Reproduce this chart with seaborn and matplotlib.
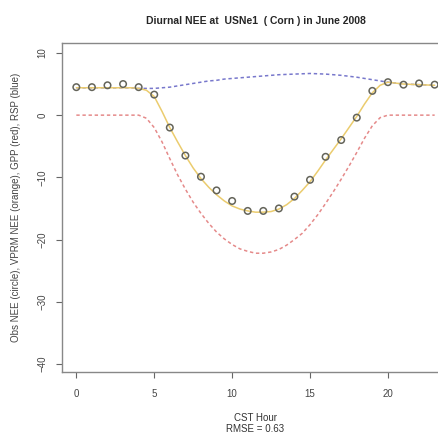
import numpy as np
import pandas as pd
import matplotlib
matplotlib.use("Agg")
import matplotlib.pyplot as plt
import seaborn as sb

# DATA
# ====
obs_hours = list(range(24))
obs_nee = [4.5, 4.5, 4.8, 5.0, 4.5, 3.3, -2.0, -6.5, -9.9, -12.1, -13.8, -15.4,
           -15.4, -15.0, -13.1, -10.4, -6.7, -4.0, -0.4, 3.9, 5.3, 4.9, 5.1, 4.9]

# modelled curves, half-hourly 0..23
curve_hours = np.arange(0, 23.5, 0.5)
gpp = [0, 0, 0, 0, 0, 0, 0, 0, 0,
       -0.5, -2.0, -4.3, -7.0, -9.6, -11.9, -14.0, -15.8, -17.4, -18.8, -19.9,
       -20.8, -21.5, -21.9, -22.2, -22.2, -22.0, -21.6, -20.9, -20.0, -19.0,
       -17.6, -16.0, -14.2, -12.3, -10.3, -8.2, -6.0, -3.7, -1.7, -0.4,
       0, 0, 0, 0, 0, 0, 0]
rsp = [4.4, 4.4, 4.4, 4.4, 4.4, 4.4, 4.4, 4.4, 4.3,
       4.3, 4.3, 4.4, 4.5, 4.7, 4.9, 5.1, 5.3, 5.5, 5.6, 5.8,
       5.9, 6.0, 6.1, 6.2, 6.3, 6.4, 6.5, 6.55, 6.6, 6.65,
       6.7, 6.65, 6.6, 6.5, 6.4, 6.25, 6.1, 5.9, 5.7, 5.5,
       5.3, 5.15, 5.0, 4.95, 4.9, 4.85, 4.8]
vprm_nee = [4.4, 4.4, 4.4, 4.4, 4.4, 4.4, 4.4, 4.4, 4.3,
            4.0, 3.0, 0.6, -2.0, -4.3, -6.5, -8.5, -10.2, -11.6, -12.8, -13.8,
            -14.6, -15.1, -15.4, -15.6, -15.6, -15.5, -15.1, -14.4, -13.4, -12.1,
            -10.7, -9.0, -7.2, -5.5, -3.8, -2.0, -0.2, 1.8, 3.6, 4.8,
            5.3, 5.15, 5.0, 4.95, 4.9, 4.85, 4.8]

title = 'Diurnal NEE at  USNe1  ( Corn ) in June 2008'
xlab = 'CST Hour\nRMSE = 0.63'
ylab = 'Obs NEE (circle), VPRM NEE (orange), GPP (red), RSP (blue)'

curves = pd.DataFrame({'hour': curve_hours, 'gpp': gpp, 'rsp': rsp, 'vprm': vprm_nee})
obs = pd.DataFrame({'hour': obs_hours, 'nee': obs_nee})

# PLOT
# ====
sb.set_style('ticks')
plt.rcParams['font.family'] = ['Liberation Sans', 'DejaVu Sans']

fig = plt.figure(figsize=(4.38, 4.36), dpi=100)
# right edge of the frame is cut off in the original
ax = fig.add_axes([62/438, 1 - 372/436, (449 - 62)/438, (372 - 43)/436])

sb.lineplot(data=curves, x='hour', y='gpp', ax=ax, color='#e58a8a', lw=1.1,
            linestyle=(0, (2.2, 1.8)))
sb.lineplot(data=curves, x='hour', y='rsp', ax=ax, color='#7878cc', lw=1.1,
            linestyle=(0, (2.2, 1.8)))
sb.lineplot(data=curves, x='hour', y='vprm', ax=ax, color='#ebcc6e', lw=1.1)
sb.scatterplot(data=obs, x='hour', y='nee', ax=ax, marker='o', s=22,
               facecolor='none', edgecolor='#64645a', linewidth=1.1, zorder=5)

ax.set_xlim(-0.92, 23.92)
ax.set_ylim(-41.3, 11.6)
ax.set_xticks([0, 5, 10, 15, 20])
ax.set_yticks([10, 0, -10, -20, -30, -40])
ax.tick_params(axis='both', length=4.5, width=0.8, color='#666666',
               labelsize=7, labelcolor='#444444')
ax.tick_params(axis='x', pad=8)
ax.tick_params(axis='y', pad=6)
for lab in ax.get_yticklabels():
    lab.set_rotation(90)
    lab.set_va('center')

for s in ax.spines.values():
    s.set_color('#888888')
    s.set_linewidth(1.0)

ax.set_title(title, fontsize=7.5, fontweight='bold', pad=14)
ax.set_xlabel(xlab, fontsize=7, color='#333333', labelpad=10, linespacing=1.1)
ax.set_ylabel(ylab, fontsize=7, color='#444444', labelpad=12)

fig.savefig('out.png', dpi=100)
